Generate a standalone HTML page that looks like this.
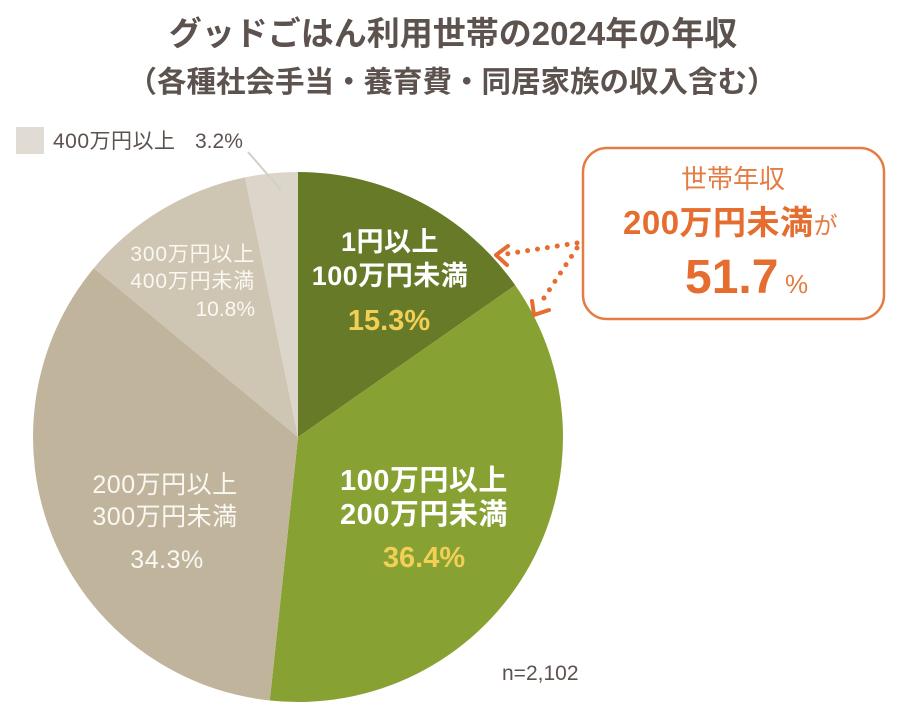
<!DOCTYPE html>
<html>
<head>
<meta charset="utf-8">
<style>
  html,body{margin:0;padding:0;background:#ffffff;}
  svg{display:block;}
  text{font-family:"Liberation Sans","Noto Sans CJK JP",sans-serif;}
</style>
</head>
<body>
<svg width="900" height="720" viewBox="0 0 900 720" xmlns="http://www.w3.org/2000/svg">
  <rect width="900" height="720" fill="#ffffff"/>

  <!-- Title -->
  <text x="453" y="45" text-anchor="middle" font-size="33" font-weight="bold" fill="#5c524e">グッドごはん利用世帯の2024年の年収</text>
  <text x="452" y="92" text-anchor="middle" font-size="29.5" font-weight="bold" fill="#5c524e">（各種社会手当・養育費・同居家族の収入含む）</text>

  <!-- Pie -->
  <path d="M298,437 L298,172 A265,265 0 0 1 515.27,285.31 Z" fill="#677a27"/>
  <path d="M298,437 L515.27,285.31 A265,265 0 0 1 269.75,700.49 Z" fill="#88a133"/>
  <path d="M298,437 L269.75,700.49 A265,265 0 0 1 93.82,268.09 Z" fill="#c1b49c"/>
  <path d="M298,437 L93.82,268.09 A265,265 0 0 1 245.08,177.35 Z" fill="#cfc5b3"/>
  <path d="M298,437 L245.08,177.35 A265,265 0 0 1 298,172 Z" fill="#dcd5c9"/>

  <!-- Legend for 3.2% -->
  <rect x="16" y="127" width="28" height="27" fill="#e0dcd3"/>
  <text x="53" y="148" font-size="21" letter-spacing="0.5" fill="#5c524e">400万円以上</text>
  <text x="195" y="148" font-size="21" fill="#5c524e">3.2%</text>
  <line x1="248" y1="152" x2="281" y2="190" stroke="#d3cec6" stroke-width="2"/>

  <!-- Label: 1円以上 100万円未満 -->
  <text x="390" y="251" text-anchor="middle" font-size="27" font-weight="bold" letter-spacing="0.5" fill="#ffffff">1円以上</text>
  <text x="390" y="285" text-anchor="middle" font-size="27" font-weight="bold" letter-spacing="0.5" fill="#ffffff">100万円未満</text>
  <text x="389" y="330" text-anchor="middle" font-size="29" font-weight="bold" fill="#f2cf55">15.3%</text>

  <!-- Label: 100万円以上 200万円未満 -->
  <text x="424" y="490" text-anchor="middle" font-size="29" font-weight="bold" letter-spacing="0.5" fill="#ffffff">100万円以上</text>
  <text x="424" y="524" text-anchor="middle" font-size="29" font-weight="bold" letter-spacing="0.5" fill="#ffffff">200万円未満</text>
  <text x="424" y="567" text-anchor="middle" font-size="29" font-weight="bold" fill="#f2cf55">36.4%</text>

  <!-- Label: 200万円以上 300万円未満 -->
  <text x="165" y="493" text-anchor="middle" font-size="25" letter-spacing="0.5" fill="#faf8f2">200万円以上</text>
  <text x="165" y="525" text-anchor="middle" font-size="25" letter-spacing="0.5" fill="#faf8f2">300万円未満</text>
  <text x="167" y="568" text-anchor="middle" font-size="25" letter-spacing="0.5" fill="#faf8f2">34.3%</text>

  <!-- Label: 300万円以上 400万円未満 -->
  <text x="255" y="261" text-anchor="end" font-size="21" letter-spacing="0.8" fill="#faf8f2">300万円以上</text>
  <text x="255" y="288" text-anchor="end" font-size="21" letter-spacing="0.8" fill="#faf8f2">400万円未満</text>
  <text x="255" y="316" text-anchor="end" font-size="21" fill="#faf8f2">10.8%</text>

  <!-- n -->
  <text x="502" y="680" font-size="21" fill="#5c524e">n=2,102</text>

  <!-- Callout box -->
  <rect x="583" y="148" width="301" height="171" rx="24" ry="24" fill="#ffffff" stroke="#e47c44" stroke-width="2.5"/>
  <text x="733" y="188" text-anchor="middle" font-size="26" fill="#e47c44">世帯年収</text>
  <text x="623" y="234" font-size="33" font-weight="bold" letter-spacing="0.5" fill="#e46d2f">200万円未満<tspan font-size="24" font-weight="normal" fill="#e47c44">が</tspan></text>
  <text x="685" y="293" font-size="48" font-weight="bold" fill="#e46d2f">51.7</text>
  <text x="785" y="293" font-size="26" fill="#e47c44">%</text>

  <!-- Dotted arrows -->
  <line x1="577" y1="243" x2="506" y2="254" stroke="#e46d2f" stroke-width="5" stroke-linecap="round" stroke-dasharray="0 10"/>
  <polyline points="508,246 496,255 507,265" fill="none" stroke="#e46d2f" stroke-width="4" stroke-linecap="round" stroke-linejoin="round"/>
  <line x1="577" y1="248" x2="540" y2="304" stroke="#e46d2f" stroke-width="5" stroke-linecap="round" stroke-dasharray="0 10"/>
  <polyline points="532,301 534,315 549,310" fill="none" stroke="#e46d2f" stroke-width="4" stroke-linecap="round" stroke-linejoin="round"/>
</svg>
</body>
</html>
